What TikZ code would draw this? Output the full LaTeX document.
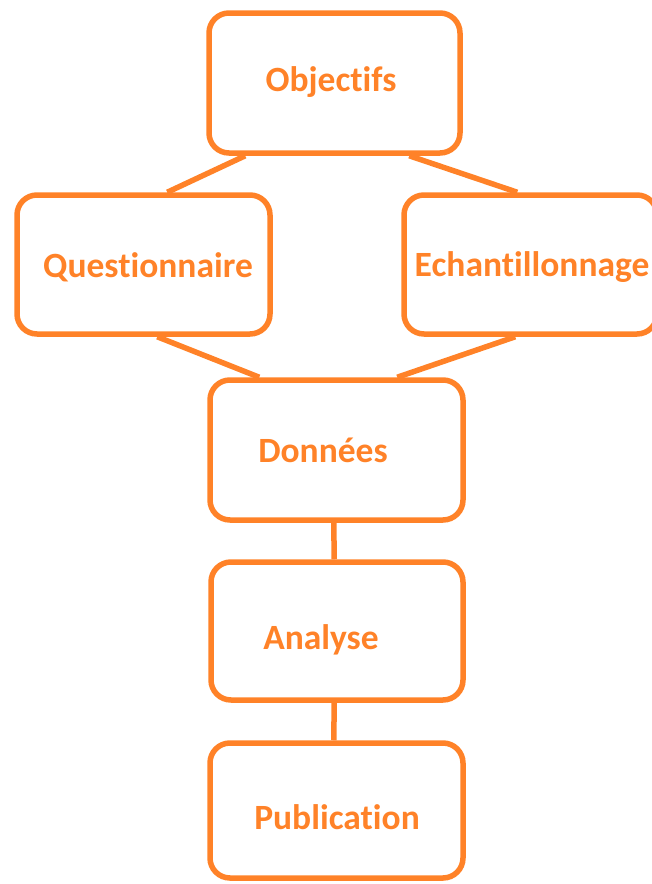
\documentclass[tikz,border=0pt]{standalone}
\usepackage{fontspec}
\setmainfont{Carlito}[Ligatures=NoCommon]
\usetikzlibrary{calc}
\definecolor{orng}{RGB}{255,130,40}
\begin{document}
\begin{tikzpicture}[x=1pt,y=-1pt,
  box/.style={draw=orng, line width=5.5pt, rounded corners=20pt, rectangle, inner sep=0pt},
  lbl/.style={text=orng, font=\fontsize{35.5}{38}\selectfont\bfseries, inner sep=0pt, anchor=center},
  conn/.style={draw=orng, line width=5.5pt}]
\useasboundingbox (0,0) rectangle (651,884);
% boxes
\node[box, minimum width=251pt, minimum height=140pt] (obj) at (334.5,83) {};
\node[box, minimum width=253pt, minimum height=139pt] (que) at (143.5,264.5) {};
\node[box, minimum width=253pt, minimum height=139pt] (ech) at (530.5,264.5) {};
\node[box, minimum width=253pt, minimum height=140pt] (don) at (336.5,450) {};
\node[box, minimum width=252pt, minimum height=138pt] (ana) at (337,631) {};
\node[box, minimum width=253pt, minimum height=135pt] (pub) at (336.5,810.5) {};
% labels
\node[lbl] (tobj) at (331,82) {Objectifs};
\node[lbl] (tque) at (148,267) {Questionnaire};
\node[lbl] (tech) at (532,267) {Echantillonnage};
\node[lbl] (tdon) at (323,450) {Données};
\node[lbl] (tana) at (321,640) {Analyse};
\node[lbl] (tpub) at (337,817) {Publication};
% connectors
\draw[conn] ($(obj.south west)+(39,0)$) -- ($(que.north west)+(153,0)$);
\draw[conn] ($(obj.south west)+(203,0)$) -- ($(ech.north west)+(116,0)$);
\draw[conn] ($(que.south west)+(143,0)$) -- ($(don.north west)+(52,0)$);
\draw[conn] ($(ech.south west)+(114,0)$) -- ($(don.north west)+(190,0)$);
\draw[conn] ($(don.south west)+(126.5,0)$) -- ($(ana.north west)+(126,0)$);
\draw[conn] ($(ana.south west)+(126,0)$) -- ($(pub.north west)+(126.5,0)$);
\end{tikzpicture}
\end{document}
